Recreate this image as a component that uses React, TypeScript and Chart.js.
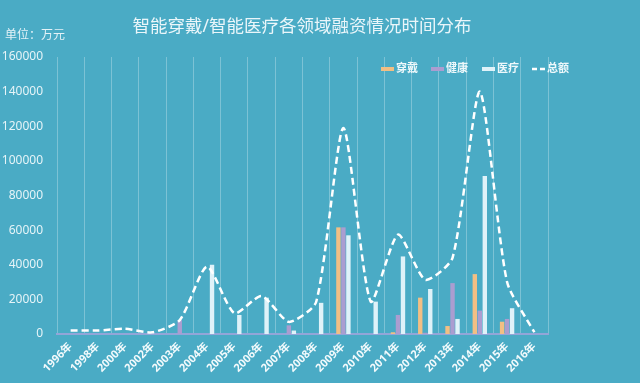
import React, { useEffect, useRef } from "react";
import { Chart, registerables } from "chart.js";

Chart.register(...registerables);

const categories = ["1996年", "1998年", "2000年", "2002年", "2003年", "2004年", "2005年", "2006年", "2007年", "2008年", "2009年", "2010年", "2011年", "2012年", "2013年", "2014年", "2015年", "2016年"];
const wearable = [0, 0, 0, 0, 0, 0, 0, 0, 0, 0, 61600, 0, 1000, 21000, 4600, 34600, 7100, 0];
const health = [0, 0, 0, 0, 8000, 0, 0, 0, 5000, 0, 61600, 0, 11000, 700, 29400, 13500, 8700, 0];
const medical = [0, 0, 0, 0, 0, 40000, 11000, 21000, 2000, 18000, 57000, 18700, 44800, 26000, 8700, 91200, 14900, 0];
const total = [2000, 2000, 3000, 1000, 8000, 39000, 12000, 22000, 7000, 18500, 119000, 18700, 57400, 31300, 44000, 140000, 30000, 1000];

const seriesNames = ["穿戴", "健康", "医疗", "总额"];
const seriesColors = ["#f2bf84", "#ab9dd0", "#dff2f9", "#ffffff"];
const titleText = "智能穿戴/智能医疗各领域融资情况时间分布";
const unitText = "单位：万元";

const FONT = '"Noto Sans", "Noto Sans CJK SC", sans-serif';
const BG = "#4aabc5";

const overlayPlugin = {
  id: "overlay",
  afterDraw(chart: any) {
    const ctx = chart.ctx;
    ctx.save();
    ctx.textBaseline = "middle";
    ctx.fillStyle = "#eaf6fa";
    ctx.font = `17.5px ${FONT}`;
    ctx.textAlign = "center";
    ctx.fillText(titleText, 302, 27);
    ctx.font = `12px ${FONT}`;
    ctx.textAlign = "left";
    ctx.fillStyle = "#e3f2f7";
    ctx.fillText(unitText, 5, 36);
    const y = 69;
    const xs = [381, 431, 482, 532];
    ctx.font = `bold 11px ${FONT}`;
    for (let i = 0; i < 4; i++) {
      const x = xs[i];
      if (i < 3) {
        ctx.fillStyle = seriesColors[i];
        ctx.fillRect(x, y - 2, 13, 4);
      } else {
        ctx.strokeStyle = seriesColors[i];
        ctx.lineWidth = 2.5;
        ctx.setLineDash([5, 3]);
        ctx.beginPath();
        ctx.moveTo(x, y);
        ctx.lineTo(x + 15, y);
        ctx.stroke();
        ctx.setLineDash([]);
      }
      ctx.fillStyle = "#eef8fb";
      ctx.fillText(seriesNames[i], x + 15, y);
    }
    ctx.restore();
  },
};

export default function App() {
  const ref = useRef<HTMLCanvasElement>(null);
  useEffect(() => {
    if (!ref.current) return;
    const chart = new Chart(ref.current, {
      type: "bar",
      data: {
        labels: categories,
        datasets: [
          { type: "line", label: seriesNames[3], data: total, borderColor: seriesColors[3], borderWidth: 2.5, borderDash: [7, 4], pointRadius: 0, tension: 0.22, fill: false, order: 0 } as any,
          { label: seriesNames[0], data: wearable, backgroundColor: seriesColors[0], order: 1, barPercentage: 0.88, categoryPercentage: 0.55 },
          { label: seriesNames[1], data: health, backgroundColor: seriesColors[1], order: 1, barPercentage: 0.88, categoryPercentage: 0.55 },
          { label: seriesNames[2], data: medical, backgroundColor: seriesColors[2], order: 1, barPercentage: 0.88, categoryPercentage: 0.55 },
        ],
      },
      options: {
        responsive: false,
        animation: false,
        layout: { padding: { top: 57, right: 92, left: 0, bottom: 0 } },
        plugins: { legend: { display: false }, title: { display: false }, tooltip: { enabled: false } },
        scales: {
          x: {
            offset: true,
            grid: { display: true, offset: true, color: "rgba(255,255,255,0.28)", lineWidth: 1, drawTicks: false },
            border: { display: true, color: "#93a5d8", width: 2 },
            ticks: {
              color: "#f2fafc",
              font: { family: FONT, size: 11, weight: "bold" },
              minRotation: 45,
              maxRotation: 45,
              padding: 6,
              autoSkip: false,
            },
            afterFit(scale: any) { scale.height = 49; },
          },
          y: {
            min: 0,
            max: 160000,
            ticks: {
              stepSize: 20000,
              color: "#e6f4f8",
              font: { family: FONT, size: 12 },
              padding: 14,
              callback: (v: any) => String(v),
            },
            grid: { display: false, drawTicks: false },
            border: { display: false },
            afterFit(scale: any) { scale.width = 57; },
          },
        },
      },
      plugins: [overlayPlugin],
    });
    return () => chart.destroy();
  }, []);
  return (
    <div style={{ position: "absolute", left: 0, top: 0, width: 640, height: 383, background: BG }}>
      <canvas ref={ref} width={640} height={383} />
    </div>
  );
}
